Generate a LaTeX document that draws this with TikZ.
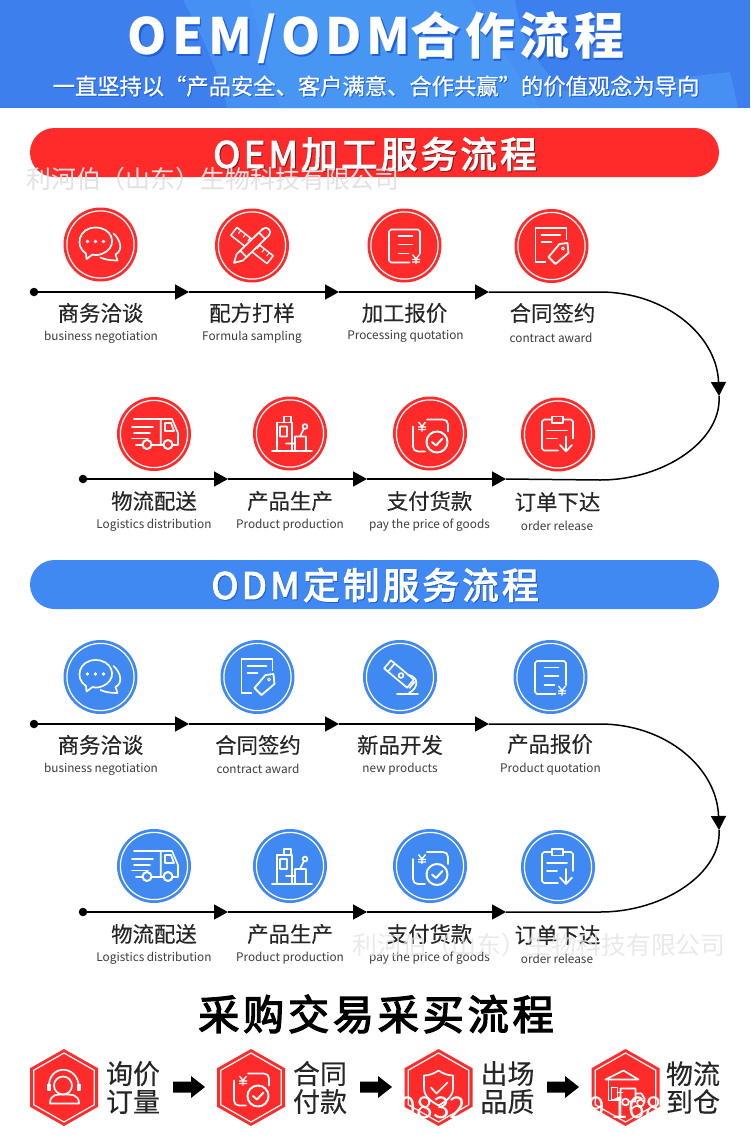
\documentclass[tikz,border=0pt]{standalone}
\usepackage{fontspec}
\usetikzlibrary{arrows.meta,shapes.geometric}
\setmainfont{Noto Sans CJK SC}
\newfontfamily\ttA[LetterSpace=10]{Noto Sans CJK SC}
\newfontfamily\ttB[LetterSpace=9]{Noto Sans CJK SC}
\newfontfamily\ttlb[LetterSpace=9,FakeBold=3]{Noto Sans CJK SC}
\newfontfamily\subf[FakeBold=0.8]{Noto Sans CJK SC}
\newfontfamily\zhf[FakeBold=0.25]{Noto Sans CJK SC}
\definecolor{myred}{HTML}{FF2A2A}
\definecolor{myblue}{HTML}{4089F2}
\definecolor{hdark}{HTML}{3D7FEC}
\definecolor{hmid}{HTML}{4690F3}
\definecolor{hlight}{HTML}{4A9AF5}
\definecolor{hshadow}{HTML}{1F5FD8}
\definecolor{ink}{HTML}{262626}
\definecolor{wm}{HTML}{E2E2E2}
\colorlet{discc}{myred}
\tikzset{
 x=1pt,y=-1pt,
 zh/.style={inner sep=0,text=ink,font=\zhf\fontsize{21.4}{25}\selectfont},
 en/.style={inner sep=0,text=ink!90,yshift=-0.8pt,font=\fontsize{11.8}{13}\selectfont},
 ln/.style={draw=white,line width=1.7pt,line cap=round,line join=round,fill=none},
 flow/.style={draw=black,line width=1.5pt,-{Triangle[length=14pt,width=15pt]}},
 flowend/.style={draw=black,line width=1.5pt},
 dotn/.style={circle,fill=black,inner sep=0,minimum size=8.5pt},
 disc/.style={circle,inner sep=0,minimum size=74pt},
 barn/.style={rounded corners=24.5pt},
 hexl/.style={inner sep=0,text=ink,align=center,font=\zhf\fontsize{27}{28}\selectfont},
 wmk/.style={inner sep=0,text=wm,font=\fontsize{24.9}{27}\selectfont,anchor=west},
 wmw/.style={inner sep=0,text=white,font=\fontsize{30}{32}\selectfont},
 blockarrow/.style={fill=black,draw=none},
}
\newcommand{\yen}[1]{\begin{scope}[shift={#1}]
 \draw[ln,line width=1.4pt,line cap=butt] (-3.5,-4.5)--(0,0)--(3.5,-4.5) (-4,0.5)--(4,0.5) (-4,3)--(4,3) (0,0)--(0,5);
\end{scope}}
\newcommand{\icchat}{
 \draw[ln] (-14,14.5) -- (-14.5,9) .. controls (-26,2) and (-22,-17) .. (-5,-17) .. controls (11,-17) and (17,-1) .. (6,7) .. controls (0,11) and (-5,11) .. (-8,10) -- cycle;
 \draw[ln] (13,-11) .. controls (20,-5) and (23,6) .. (15,10) -- (17,16) .. controls (10,16) and (4,15) .. (0,13);
 \fill[white] (-13,-3) circle (1.8) (-5,-3) circle (1.8) (3,-3) circle (1.8);}
\newcommand{\icruler}{
 \begin{scope}[rotate=-38]
  \draw[ln,line width=1.5pt] (-23,-5) rectangle (23,5);
  \draw[ln,line width=1pt] (-18,-5)--(-18,-1) (-12,-5)--(-12,-1) (-6,-5)--(-6,-1) (0,-5)--(0,-1) (6,-5)--(6,-1) (12,-5)--(12,-1) (18,-5)--(18,-1);
 \end{scope}
 \begin{scope}[rotate=44]
  \draw[ln,fill=discc] (-17,-4.5) -- (-25,0) -- (-17,4.5) -- (19,4.5) .. controls (25,4.5) and (25,-4.5) .. (19,-4.5) -- cycle;
  \draw[ln] (-12,-4.5) -- (-12,4.5) (14,-4.5)--(14,4.5);
 \end{scope}}
\newcommand{\icquote}{
 \draw[ln] (15.5,8) -- (15.5,-14) -- (13.5,-16) -- (-13.5,-16) -- (-15.5,-14) -- (-15.5,15) -- (-13.5,17) -- (5,17);
 \draw[ln] (-6,-9.5)--(8,-9.5) (-6,-1)--(8,-1) (-6,8)--(4,8);
 \yen{(11.5,13.5)}}
\newcommand{\iccontract}{
 \draw[ln,line cap=butt] (15,-18)--(-16,-18)--(-16,16)--(-6,16) (15,-18)--(15,-6);
 \draw[ln] (-10,-11)--(9,-11) (-10,-4)--(0,-4);
 \draw[ln,fill=discc,line width=1.8pt] (16,-3)--(17,7)--(4,18)--(-3,11)--(8,-2)--cycle;
 \draw[ln,line width=1pt] (11.5,2.5) circle (1.5);}
\newcommand{\ictruck}{
 \draw[ln] (-20,-15)--(6.7,-15)--(6.7,10) (6.7,-15)--(18,-15)--(24,-1)--(24,11)--(19,11) (-2,11)--(9,11);
 \draw[ln] (11,-11)--(17,-11)--(20,-3)--(11,-3)--cycle;
 \draw[ln] (-22,-7)--(-1,-7) (-20,-1)--(-4,-1) (-18,11)--(-12,11) (-22,4.5)--(-6,4.5);
 \draw[ln,line width=2pt] (-7,10.5) circle (4.5) (14,10.5) circle (4.5);}
\newcommand{\icplant}{
 \draw[ln] (-18,17.7)--(22,17.7) (-13,17.7)--(-13,-11)--(2,-11)--(2,17.7) (-6,-11)--(-6,-17)--(1,-17)--(1,-11);
 \draw[ln] (-10,-7) rectangle (-3,3) (-4,10)--(5,10) (5,17.7)--(5,3)--(16,3)--(16,17.7) (10,3)--(14,-5);
 \draw[ln] (15,-7) circle (2.4);}
\newcommand{\icpay}{
 \draw[ln] (-3,-14)--(13,-14) .. controls (16,-14) and (18,-12) .. (18,-9) -- (18,-2);
 \draw[ln] (-17,-7)--(-17,13) .. controls (-17,16) and (-15,18) .. (-12,18) -- (-5,18);
 \yen{(-8,-7)}
 \draw[ln,line width=2pt] (7,8.5) circle (10.5);
 \draw[ln,line width=2pt] (2,8.5)--(6,12)--(12.5,5);}
\newcommand{\icorder}{
 \draw[ln] (-6,-15)--(-14,-15)--(-16,-13)--(-16,14)--(-14,16)--(0,16) (5,-15)--(13,-15)--(15,-13)--(15,4);
 \draw[ln] (-6,-18) rectangle (5,-11.5);
 \draw[ln] (-11,-4)--(9,-4) (-11,4)--(-1,4);
 \draw[ln] (8,2)--(8,17) (2,10.5)--(8,17)--(14,10.5);}
\newcommand{\icscope}{
 \draw[ln] (8,-2) .. controls (18,-1) and (20,10) .. (9,16);
 \draw[ln] (-3,17)--(18,17);
 \begin{scope}[shift={(-1,-3)},rotate=-40]
  \draw[ln,fill=discc] (-15,-5.3) rectangle (15,5.3);
  \draw[ln] (-10,-5.3)--(-10,5.3);
  \draw[ln] (17,-4)--(17,4);
 \end{scope}
 \draw[ln,fill=discc] (1,-1.5) circle (2.4);}
\newcommand{\ichead}{
 \draw[ln] (-1,-2) circle (9);
 \draw[ln] (-15,1) .. controls (-17,-24) and (15,-24) .. (15,1);
 \draw[ln] (-16,-3) rectangle (-13.5,2.5) (13.5,-3) rectangle (16,2.5);
 \draw[ln] (-14,16) .. controls (-14,6) and (-6,7) .. (0,7) .. controls (6,7) and (15,6) .. (15,16) -- cycle;}
\newcommand{\icshield}{
 \draw[ln] (0,-17) .. controls (4,-14) and (10,-12) .. (14.5,-12) -- (14.5,1) .. controls (14.5,9) and (7,14) .. (0,18) .. controls (-7,14) and (-14.5,9) .. (-14.5,1) -- (-14.5,-12) .. controls (-10,-12) and (-4,-14) .. (0,-17) -- cycle;
 \draw[ln] (-7.5,0)--(-2,6)--(9,-5);}
\newcommand{\icware}{
 \draw[ln] (-20,-8)--(-2,-17)--(13,-8)--cycle;
 \draw[ln] (-17,-8)--(-17,13)--(-6,13) (-14,0) rectangle (-8,12) (-8,5)--(-3,5);
 \draw[ln] (-5,12)--(-5,1)--(10,1)--(10,14)--(3,14) (10,6)--(16,6)--(19,11)--(19,15);
 \draw[ln] (0,14.5) circle (3.4) (15,15.5) circle (3.4);}
\newcommand{\hexpath}[2]{(0,-#1)--(#2,-#1/2)--(#2,#1/2)--(0,#1)--(-#2,#1/2)--(-#2,-#1/2)--cycle}
\newcommand{\titletext}{{\ttA\bfseries\fontsize{50}{60}\selectfont OEM/ODM}{\ttB\bfseries\fontsize{50}{60}\selectfont 合作流程}}
\begin{document}
\begin{tikzpicture}
\useasboundingbox (0,0) rectangle (750,1140);
% header
\fill[hdark] (0,0) rectangle (750,108);
\fill[hmid] (183,0) -- (515,0) .. controls (520,30) and (530,65) .. (583,108) -- (227,108) .. controls (222,80) and (200,30) .. (183,0) -- cycle;
\fill[hlight,opacity=.6] (250,0) -- (470,0) -- (540,108) -- (280,108) -- cycle;
\fill[hmid] (555,92) -- (730,72) -- (738,108) -- (583,108) -- cycle;
\node[inner sep=0,text=hshadow] at (377.5,39.5) {\titletext};
\node[inner sep=0,text=white] (title) at (376,38) {\titletext};
\node[inner sep=0,text=hshadow,font={\subf\fontsize{22.3}{26}\selectfont}] at (377,87) {一直坚持以“产品安全、客户满意、合作共赢”的价值观念为导向};
\node[inner sep=0,text=white,font={\subf\fontsize{22.3}{26}\selectfont}] (subt) at (376,86) {一直坚持以“产品安全、客户满意、合作共赢”的价值观念为导向};
% bars
\fill[myred,barn] (30,128) rectangle (719,177);
\node[inner sep=0,text=black!45!myred,font={\ttlb\fontsize{36.5}{40}\selectfont}] at (376,155) {OEM加工服务流程};
\node[inner sep=0,text=white,font={\ttlb\fontsize{36.5}{40}\selectfont}] (bar1) at (375,154) {OEM加工服务流程};
\fill[myblue,barn] (30,560) rectangle (719,609);
\node[inner sep=0,text=hshadow,font={\ttlb\fontsize{36.5}{40}\selectfont}] at (376,586) {ODM定制服务流程};
\node[inner sep=0,text=white,font={\ttlb\fontsize{36.5}{40}\selectfont}] (bar2) at (375,585) {ODM定制服务流程};
% timeline red
\node[dotn] (d1) at (34,292) {};
\coordinate (a1) at (189,292); \coordinate (a2) at (339,292); \coordinate (a3) at (489,292);
\coordinate (t1) at (719,396);
\node[dotn] (d2) at (83,479) {};
\coordinate (b1) at (228,479); \coordinate (b2) at (367,479); \coordinate (b3) at (506,479);
\draw[flow] (d1) -- (a1); \draw[flow] (a1) -- (a2); \draw[flow] (a2) -- (a3);
\draw[flow] (a3) -- (600,292) .. controls (665,292) and (717,335) .. (t1);
\draw[flowend] (t1) .. controls (722,440) and (665,480) .. (600,480) -- (b3);
\draw[flow] (d2) -- (b1); \draw[flow] (b1) -- (b2); \draw[flow] (b2) -- (b3);
% timeline blue
\node[dotn] (d3) at (34,724) {};
\coordinate (e1) at (189,724); \coordinate (e2) at (339,724); \coordinate (e3) at (489,724);
\coordinate (t2) at (719,830);
\node[dotn] (d4) at (83,912) {};
\coordinate (f1) at (228,912); \coordinate (f2) at (367,912); \coordinate (f3) at (506,912);
\draw[flow] (d3) -- (e1); \draw[flow] (e1) -- (e2); \draw[flow] (e2) -- (e3);
\draw[flow] (e3) -- (600,724) .. controls (665,724) and (717,767) .. (t2);
\draw[flowend] (t2) .. controls (722,872) and (665,912) .. (600,912) -- (f3);
\draw[flow] (d4) -- (f1); \draw[flow] (f1) -- (f2); \draw[flow] (f2) -- (f3);
% discs
\foreach \n/\x/\y/\c/\ic in {r1/100.5/244.5/myred/\icchat,r2/252/245.5/myred/\icruler,r3/404.5/245.5/myred/\icquote,r4/551.5/246/myred/\iccontract,
 r5/154/434/myred/\ictruck,r6/290/433.5/myred/\icplant,r7/430/433.5/myred/\icpay,r8/558/434.5/myred/\icorder,
 b1/100.5/677/myblue/\icchat,b2/257.5/677/myblue/\iccontract,b3/400/677/myblue/\icscope,b4/550.5/677/myblue/\icquote,
 b5/154/866/myblue/\ictruck,b6/290/866/myblue/\icplant,b7/430/866/myblue/\icpay,b8/558/867/myblue/\icorder}{
 \colorlet{discc}{\c}
 \node[disc,fill=\c] (disc\n) at (\x,\y) {};
 \draw[white,line width=1.2pt] (\x,\y) circle (33.6);
 \begin{scope}[shift={(\x,\y)}] \ic \end{scope}
}
\colorlet{discc}{myred}
% labels
\node[zh] (z1) at (100.5,313) {商务洽谈}; \node[en] (n1) at (101,336) {business negotiation};
\node[zh] (z2) at (252,313) {配方打样}; \node[en] (n2) at (252,336) {Formula sampling};
\node[zh] (z3) at (404.5,313) {加工报价}; \node[en] (n3) at (405.5,336) {Processing quotation};
\node[zh] (z4) at (552.5,313) {合同签约}; \node[en] (n4) at (551,337) {contract award};
\node[zh] (z5) at (154,501) {物流配送}; \node[en] (n5) at (154,524.5) {Logistics distribution};
\node[zh] (z6) at (290,501) {产品生产}; \node[en] (n6) at (290,524.5) {Product production};
\node[zh] (z7) at (429.5,501) {支付货款}; \node[en] (n7) at (429.5,524.5) {pay the price of goods};
\node[zh] (z8) at (557.5,502) {订单下达}; \node[en] (n8) at (557,525.5) {order release};
\node[zh] (z9) at (100.5,745) {商务洽谈}; \node[en] (n9) at (101,768) {business negotiation};
\node[zh] (z10) at (258,745) {合同签约}; \node[en] (n10) at (258,768) {contract award};
\node[zh] (z11) at (400,745) {新品开发}; \node[en] (n11) at (400,768) {new products};
\node[zh] (z12) at (550,744) {产品报价}; \node[en] (n12) at (550.5,768) {Product quotation};
\node[zh] (z13) at (154,934) {物流配送}; \node[en] (n13) at (154,957) {Logistics distribution};
\node[zh] (z14) at (290,934) {产品生产}; \node[en] (n14) at (290,957) {Product production};
\node[zh] (z15) at (429.5,934) {支付货款}; \node[en] (n15) at (429.5,957) {pay the price of goods};
\node[zh] (z16) at (557.5,935) {订单下达}; \node[en] (n16) at (557,958) {order release};
% bottom
\node[inner sep=0,text=black,font={\ttlb\fontsize{41.2}{46}\selectfont}] (buy) at (376,1014) {采购交易采买流程};
\foreach \n/\x/\ic/\lx/\la/\lb in {h1/64/\ichead/133/询价/订量,h2/251/\icpay/320/合同/付款,h3/438.5/\icshield/507.5/出场/品质,h4/625.5/\icware/693/物流/到仓}{
 \begin{scope}[shift={(\x,1087.5)}]
  \fill[myred] \hexpath{38.5}{34};
  \draw[white,line width=1.2pt] \hexpath{34.5}{30.2};
  \ic
 \end{scope}
 \node[hexl] (l\n) at (\lx,1087.5) {\la\\\lb};
}
\foreach \n/\x in {k1/173,k2/360,k3/547}{
 \begin{scope}[shift={(\x,1087)}]
  \fill[blockarrow] (0,-5.5)--(18,-5.5)--(18,-11)--(32,0)--(18,11)--(18,5.5)--(0,5.5)--cycle;
 \end{scope}
}
% watermarks
\node[wmk] (w1) at (26,179) {利河伯（山东）生物科技有限公司};
\node[wmk,opacity=.75] (w2) at (352,945) {利河伯（山东）生物科技有限公司};
\node[wmw] (w3) at (433,1108) {0832};
\node[wmw] (w4) at (625,1108) {9 168};
\end{tikzpicture}
\end{document}
